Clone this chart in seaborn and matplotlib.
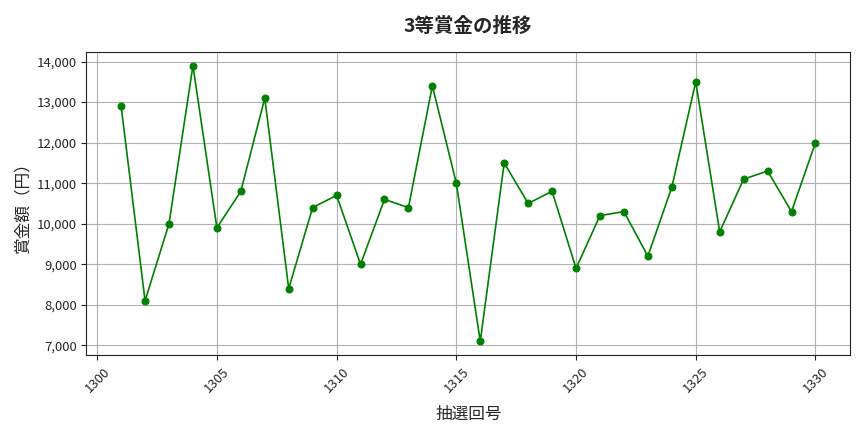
import matplotlib
matplotlib.use("Agg")
import matplotlib.pyplot as plt
import matplotlib.ticker as mticker
import pandas as pd
import seaborn as sns

DRAW_NUMBERS = list(range(1301, 1331))
PRIZE_YEN = [
    12900, 8100, 10000, 13900, 9900, 10800, 13100, 8400, 10400, 10700,
    9000, 10600, 10400, 13400, 11000, 7100, 11500, 10500, 10800, 8900,
    10200, 10300, 9200, 10900, 13500, 9800, 11100, 11300, 10300, 12000,
]
TITLE = "3等賞金の推移"
X_LABEL = "抽選回号"
Y_LABEL = "賞金額（円）"

sns.set_style("ticks")
plt.rcParams["font.family"] = ["Noto Sans CJK JP", "DejaVu Sans"]

df = pd.DataFrame({"draw": DRAW_NUMBERS, "prize": PRIZE_YEN})

fig, ax = plt.subplots(figsize=(8.64, 4.32), dpi=100)
fig.subplots_adjust(left=0.1, right=0.984, top=0.88, bottom=0.178)

sns.lineplot(data=df, x="draw", y="prize", color="green", marker="o",
             markersize=5, markeredgecolor="green", linewidth=1.2, ax=ax)

ax.set_title(TITLE, fontsize=14, fontweight="bold", pad=14)
ax.set_xlabel(X_LABEL, fontsize=12, labelpad=8)
ax.set_ylabel(Y_LABEL, fontsize=12)
ax.grid(True, color="#b0b0b0", linewidth=0.8)
ax.yaxis.set_major_formatter(mticker.FuncFormatter(lambda v, _: f"{int(v):,}"))
ax.xaxis.set_major_locator(mticker.MultipleLocator(5))
ax.tick_params(axis="x", rotation=45, labelsize=9.5)
ax.tick_params(axis="y", labelsize=9.5)
for spine in ax.spines.values():
    spine.set_visible(True)
    spine.set_color("#222222")

fig.savefig("out.png", dpi=100)
